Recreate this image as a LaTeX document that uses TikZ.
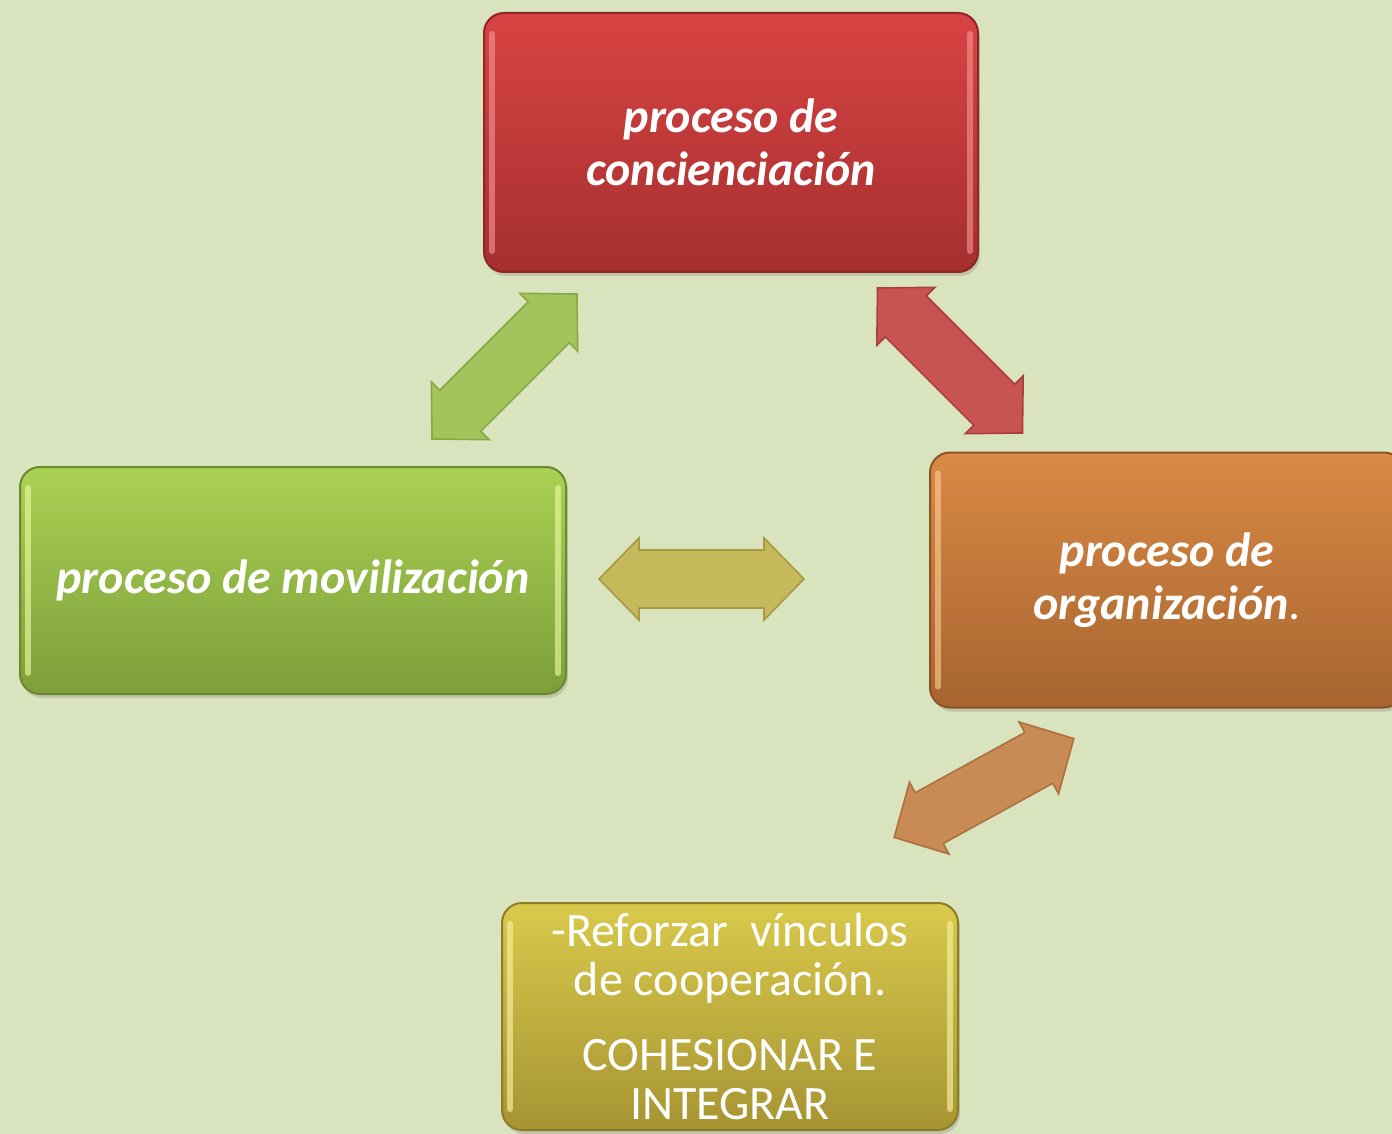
\documentclass[tikz,border=0pt]{standalone}
\usepackage{fontspec}
\setmainfont{Carlito}
\usetikzlibrary{shadows}
\definecolor{bg}{HTML}{D9E4BE}
\definecolor{redT}{HTML}{D94343}
\definecolor{redB}{HTML}{A52F2F}
\definecolor{redD}{HTML}{8E2626}
\definecolor{redH}{HTML}{F29090}
\definecolor{grnT}{HTML}{A9D152}
\definecolor{grnB}{HTML}{7D9E3B}
\definecolor{grnD}{HTML}{6A8A30}
\definecolor{grnH}{HTML}{E8F8A0}
\definecolor{oraT}{HTML}{D98A45}
\definecolor{oraB}{HTML}{A7642F}
\definecolor{oraD}{HTML}{8C5326}
\definecolor{oraH}{HTML}{F8C890}
\definecolor{yelT}{HTML}{D9C94B}
\definecolor{yelB}{HTML}{A69433}
\definecolor{yelD}{HTML}{8C7C28}
\definecolor{yelH}{HTML}{F8F0A0}
\definecolor{arG}{HTML}{A3C45B}
\definecolor{arGd}{HTML}{88A845}
\definecolor{arR}{HTML}{C85452}
\definecolor{arRd}{HTML}{AA3E3C}
\definecolor{arO}{HTML}{C5B95B}
\definecolor{arOd}{HTML}{A69A42}
\definecolor{arC}{HTML}{C98B56}
\definecolor{arCd}{HTML}{AC703E}
\tikzset{
  box/.style={rounded corners=10pt, line width=1pt, inner sep=0pt, align=center,
    text=white, drop shadow={opacity=0.3, shadow xshift=1pt, shadow yshift=-2pt}},
  boldtxt/.style={font=\fontsize{24}{26.5}\selectfont\bfseries\itshape},
  regtxt/.style={font=\fontsize{24}{24.5}\selectfont},
  hl/.style={line width=3pt, line cap=round, opacity=0.65},
  arr/.style={line width=0.8pt, drop shadow={opacity=0.35, shadow xshift=1.5pt, shadow yshift=-2pt}},
  dblarr/.pic={\path[pic actions] (-102.5,0) -- (-62.5,41) -- (-62.5,29) -- (62.5,29) -- (62.5,41)
      -- (102.5,0) -- (62.5,-41) -- (62.5,-29) -- (-62.5,-29) -- (-62.5,-41) -- cycle;}
}
\begin{document}
\begin{tikzpicture}[x=0.5pt,y=-0.5pt]
\useasboundingbox (0,0) rectangle (1392,1134);
\fill[bg] (0,0) rectangle (1392,1134);
\clip (0,0) rectangle (1392,1134);

% boxes
\node[box, boldtxt, top color=redT, bottom color=redB, draw=redD,
  minimum width=247pt, minimum height=129.5pt] (conc) at (731,142.5)
  {proceso de\\concienciación};
\node[box, boldtxt, top color=grnT, bottom color=grnB, draw=grnD,
  minimum width=273pt, minimum height=113.5pt] (movi) at (293,580.5)
  {proceso de movilización};
\node[box, boldtxt, top color=oraT, bottom color=oraB, draw=oraD,
  minimum width=237pt, minimum height=127.5pt] (orga) at (1167,580)
  {proceso de\\organización{\normalfont .}};
\node[box, regtxt, top color=yelT, bottom color=yelB, draw=yelD,
  minimum width=228pt, minimum height=113.5pt] (coop) at (730,1016.5)
  {-Reforzar~ vínculos\\de cooperación.\\[13pt]COHESIONAR E\\INTEGRAR};

% gloss highlights
\foreach \n/\c in {conc/redH, movi/grnH, orga/oraH, coop/yelH}{
  \draw[hl, \c] ([xshift=4.5pt,yshift=-11pt]\n.north west) -- ([xshift=4.5pt,yshift=11pt]\n.south west);
  \draw[hl, \c] ([xshift=-4.5pt,yshift=-11pt]\n.north east) -- ([xshift=-4.5pt,yshift=11pt]\n.south east);
}

% double arrows
\coordinate (aG) at (504.5,366.5);
\coordinate (aR) at (950,360.5);
\coordinate (aO) at (701.5,579);
\coordinate (aC) at (984,788);
\pic[arr, fill=arG, draw=arGd, rotate=45] at (aG) {dblarr};
\pic[arr, fill=arR, draw=arRd, rotate=-45] at (aR) {dblarr};
\pic[arr, fill=arO, draw=arOd] at (aO) {dblarr};
\pic[arr, fill=arC, draw=arCd, rotate=28.8] at (aC) {dblarr};
\end{tikzpicture}
\end{document}
